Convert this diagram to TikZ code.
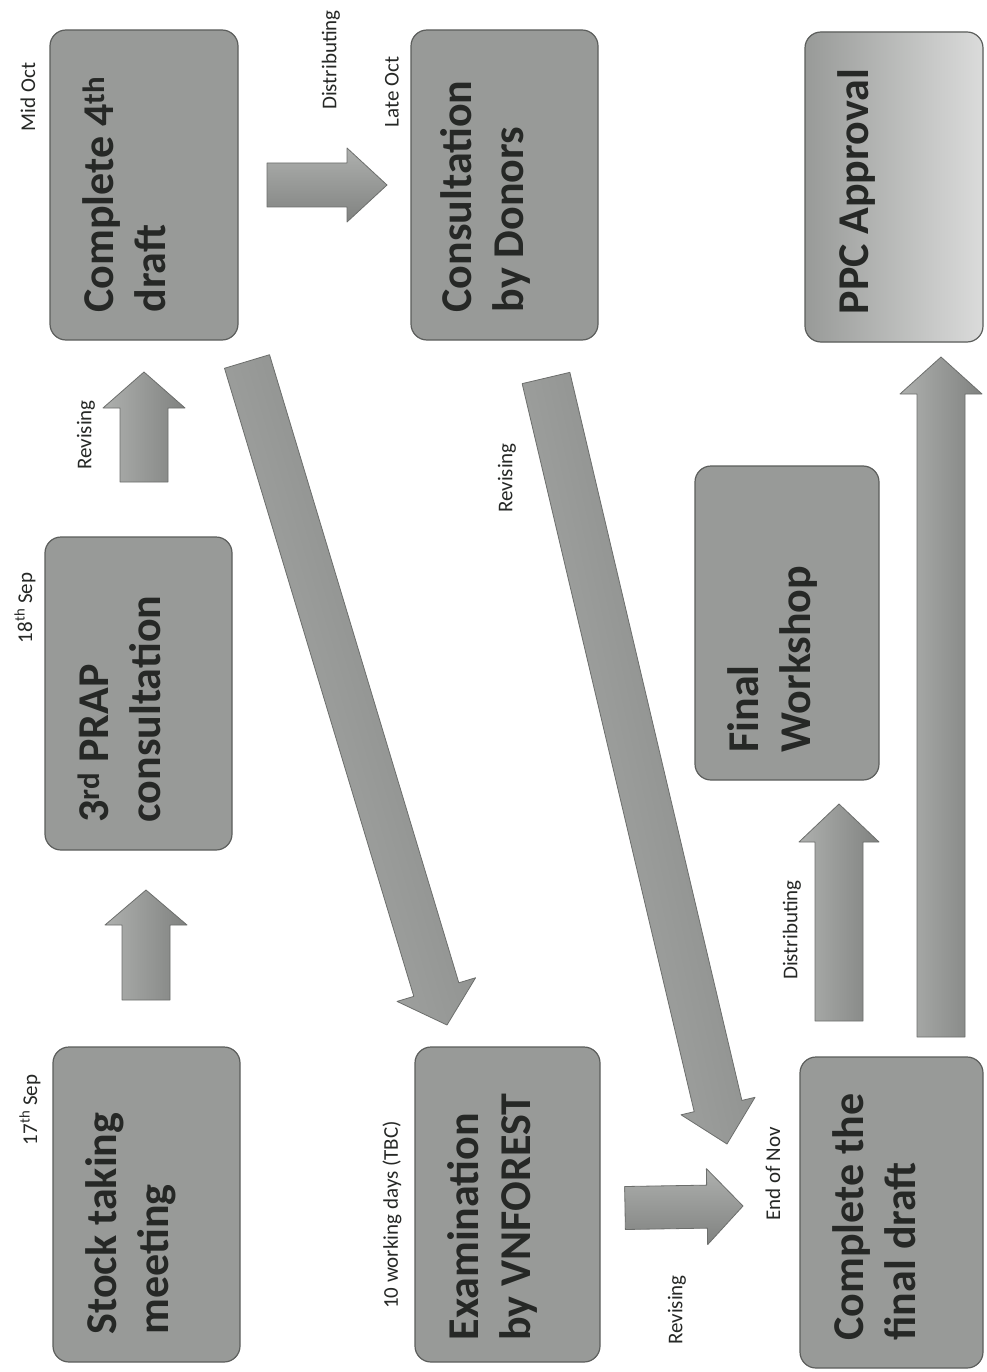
\documentclass[tikz,border=0pt]{standalone}
\usepackage{fontspec}
\setmainfont{Carlito}
\usetikzlibrary{calc}

\definecolor{boxgray}{RGB}{152,154,152}
\definecolor{boxedge}{RGB}{92,94,92}
\definecolor{inkgray}{RGB}{38,40,38}
\definecolor{arrowlight}{RGB}{174,176,174}
\definecolor{arrowmid}{RGB}{153,155,153}
\definecolor{arrowdark}{RGB}{128,130,128}
\definecolor{arrowedge}{RGB}{108,110,108}

\tikzset{
  stage/.style={draw=boxedge, line width=1.2pt, rounded corners=16pt,
    fill=boxgray, inner sep=0pt},
  lightstage/.style={stage, left color=boxgray, right color=boxgray!35!white},
  stagetext/.style={rotate=90, anchor=north west, align=left, inner sep=0pt,
    text=inkgray, font=\bfseries\fontsize{44}{52}\selectfont},
  datelabel/.style={rotate=90, inner sep=0pt, text=inkgray,
    font=\fontsize{21}{25}\selectfont},
  blockarrow/.style={draw=arrowedge, line width=0.8pt, line join=round}
}

% block arrow: start, tip, half body width, half head width, head length, shading angle
\newcommand\stagearrow[6]{%
  \coordinate (hb) at ($(#2)!#5!(#1)$);
  \path[blockarrow, left color=arrowlight, middle color=arrowmid,
        right color=arrowdark, shading angle=#6]
    ($(#1)!#3!90:(#2)$) -- ($(hb)!#3!90:(#2)$) -- ($(hb)!#4!90:(#2)$) -- (#2)
    -- ($(hb)!#4!-90:(#2)$) -- ($(hb)!#3!-90:(#2)$) -- ($(#1)!#3!-90:(#2)$)
    -- cycle;
}

\begin{document}
\begin{tikzpicture}[x=1pt, y=-1pt]
  \fill[white] (0,0) rectangle (986,1372);
  \useasboundingbox (0,0) rectangle (986,1372);

  % stages
  \node[stage, minimum width=188pt, minimum height=310pt] (b4th)  at (144,185) {};
  \node[stage, minimum width=187pt, minimum height=310pt] (bdon)  at (504.5,185) {};
  \node[lightstage, minimum width=178pt, minimum height=310pt] (bppc) at (894,187) {};
  \node[stage, minimum width=187pt, minimum height=313pt] (bprap) at (138.5,693.5) {};
  \node[stage, minimum width=184pt, minimum height=314pt] (bws)   at (787,623) {};
  \node[stage, minimum width=187pt, minimum height=315pt] (bst)   at (146.5,1204.5) {};
  \node[stage, minimum width=185pt, minimum height=315pt] (bvn)   at (507.5,1204.5) {};
  \node[stage, minimum width=183pt, minimum height=311pt] (bfin)  at (891.5,1212.5) {};

  % stage titles
  \node[stagetext] (t4th)  at ([xshift=33pt,yshift=28pt]b4th.south west)  {Complete 4\textsuperscript{th}\\draft};
  \node[stagetext] (tdon)  at ([xshift=30pt,yshift=28pt]bdon.south west)  {Consultation\\by Donors};
  \node[stagetext] (tppc)  at ([xshift=33pt,yshift=28pt]bppc.south west)  {PPC Approval};
  \node[stagetext] (tprap) at ([xshift=33pt,yshift=28pt]bprap.south west) {3\textsuperscript{rd} PRAP\\consultation};
  \node[stagetext] (tws)   at ([xshift=33pt,yshift=28pt]bws.south west)   {Final\\Workshop};
  \node[stagetext] (tst)   at ([xshift=33pt,yshift=28pt]bst.south west)   {Stock taking\\meeting};
  \node[stagetext] (tvn)   at ([xshift=33pt,yshift=22pt]bvn.south west)   {Examination\\by VNFOREST};
  \node[stagetext] (tfin)  at ([xshift=33pt,yshift=28pt]bfin.south west)  {Complete the\\final draft};

  % arrow end points
  \coordinate (a1s) at (146,1000);  \coordinate (a1t) at (146,890);
  \coordinate (a2s) at (144,482);   \coordinate (a2t) at (144,372);
  \coordinate (a3s) at (267,185);   \coordinate (a3t) at (387,185);
  \coordinate (a4s) at (247,361.5); \coordinate (a4t) at (447,1025);
  \coordinate (a5s) at (546,378);   \coordinate (a5t) at (727,1144);
  \coordinate (a6s) at (625,1208);  \coordinate (a6t) at (743,1206);
  \coordinate (a7s) at (839,1021);  \coordinate (a7t) at (839,804);
  \coordinate (a8s) at (941,1037);  \coordinate (a8t) at (941,357);

  \stagearrow{a1s}{a1t}{24pt}{41pt}{35pt}{90}
  \stagearrow{a2s}{a2t}{24pt}{41pt}{36pt}{90}
  \stagearrow{a3s}{a3t}{22pt}{37pt}{40pt}{0}
  \stagearrow{a4s}{a4t}{23.5pt}{41pt}{37pt}{107}
  \stagearrow{a5s}{a5t}{24.5pt}{38pt}{39pt}{103}
  \stagearrow{a6s}{a6t}{21.5pt}{38pt}{36pt}{0}
  \stagearrow{a7s}{a7t}{24pt}{40pt}{38pt}{90}
  \stagearrow{a8s}{a8t}{24pt}{41pt}{37pt}{90}

  % dates and actions
  \node[datelabel] (lmid)  at (28,97)    {Mid Oct};
  \node[datelabel] (ldis1) at (331,60)   {Distributing};
  \node[datelabel] (llate) at (392,92)   {Late Oct};
  \node[datelabel] (l18)   at (25,608)   {18\textsuperscript{th} Sep};
  \node[datelabel] (lrev1) at (86,435)   {Revising};
  \node[datelabel] (lrev2) at (507,478)  {Revising};
  \node[datelabel] (l17)   at (30,1110)  {17\textsuperscript{th} Sep};
  \node[datelabel] (l10)   at (392,1215) {10 working days (TBC)};
  \node[datelabel] (lrev3) at (677,1310) {Revising};
  \node[datelabel] (lend)  at (773,1174) {End of Nov};
  \node[datelabel] (ldis2) at (792,930)  {Distributing};
\end{tikzpicture}
\end{document}
